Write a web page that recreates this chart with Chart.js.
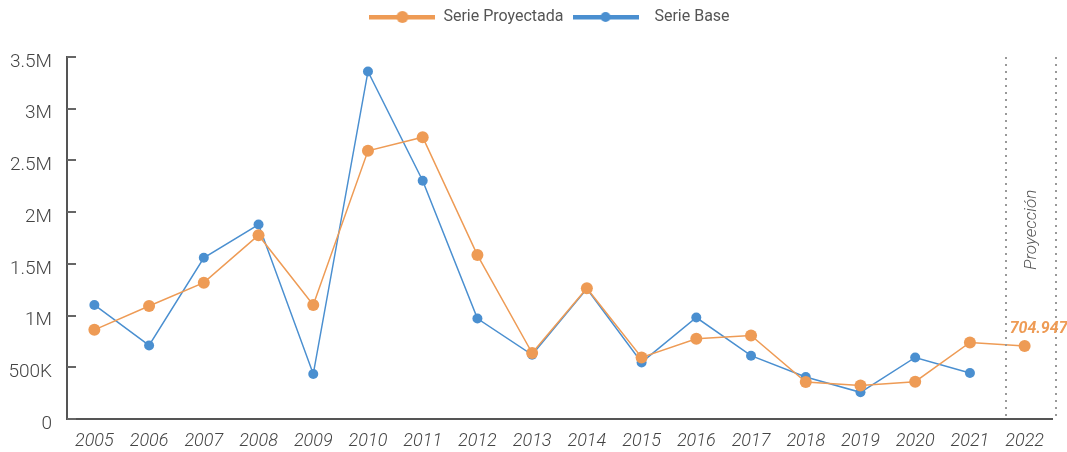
<!doctype html>
<html lang="es">
<head>
<meta charset="utf-8">
<script src="https://cdn.jsdelivr.net/npm/chart.js/dist/chart.umd.min.js"></script>
<style>
  * { margin: 0; padding: 0; }
  body { width: 1067px; height: 452px; background: #fff; overflow: hidden; }
  .chartBox { width: 1067px; height: 452px; }
</style>
</head>
<body>
<div class="chartBox"><canvas id="proyChart"></canvas></div>
<script>
// datos
var years = ['2005','2006','2007','2008','2009','2010','2011','2012','2013','2014','2015','2016','2017','2018','2019','2020','2021','2022'];
var serieProyectada = [862000, 1093000, 1318000, 1777000, 1103000, 2593000, 2725000, 1585000, 638000, 1264000, 595000, 775000, 807000, 358000, 323000, 361000, 740000, 704947];
var serieBase = [1103000, 711000, 1559000, 1880000, 435000, 3360000, 2304000, 971000, 621000, 1260000, 547000, 981000, 612000, 406000, 258000, 595000, 445000, null];
var yTicks = [0, 500000, 1000000, 1500000, 2000000, 2500000, 3000000, 3500000];

var ORANGE = '#EE9B55';
var BLUE = '#4A8FD0';

function legendIcon(color, r) {
    var c = document.createElement('canvas');
    c.width = 66; c.height = 12;
    var g = c.getContext('2d');
    g.fillStyle = color;
    g.fillRect(0, 4, 66, 4.5);
    g.beginPath();
    g.arc(33, 6, r, 0, Math.PI * 2);
    g.fill();
    return c;
}

function fmtTick(v) {
    if (v === 0) return '0';
    if (v >= 1000000) return (v / 1000000) + 'M';
    return (v / 1000) + 'K';
}

function fmtNum(v) {
    return String(v).replace(/\B(?=(\d{3})+(?!\d))/g, '.');
}

// marcas, lineas de proyeccion y etiquetas
var extras = {
    id: 'extras',
    beforeInit: function (chart) {
        var fit = chart.legend.fit;
        chart.legend.fit = function () {
            fit.bind(chart.legend)();
            this.height += 22;
        };
    },
    afterLayout: function (chart) {
        // leyenda un poco a la izquierda del centro del area
        chart.legend.left = chart.chartArea.left - 20;
        chart.legend.right = chart.chartArea.right;
    },
    afterDraw: function (chart) {
        var ctx = chart.ctx;
        var x = chart.scales.x, y = chart.scales.y;
        var area = chart.chartArea;
        ctx.save();
        // tick marks hacia dentro
        ctx.strokeStyle = '#666';
        ctx.lineWidth = 2;
        yTicks.forEach(function (t) {
            var py = Math.round(y.getPixelForValue(t));
            ctx.beginPath();
            ctx.moveTo(area.left, py);
            ctx.lineTo(area.left + 9, py);
            ctx.stroke();
        });
        // lineas punteadas
        ctx.strokeStyle = '#999';
        ctx.lineWidth = 2;
        ctx.setLineDash([2, 5]);
        [16.66, 17.57].forEach(function (i) {
            var px = Math.round(x.getPixelForValue(i));
            ctx.beginPath();
            ctx.moveTo(px, area.top);
            ctx.lineTo(px, area.bottom + 2);
            ctx.stroke();
        });
        ctx.setLineDash([]);
        // texto Proyeccion
        ctx.translate(x.getPixelForValue(17.13), y.getPixelForValue(1830000));
        ctx.rotate(-Math.PI / 2);
        ctx.fillStyle = '#555';
        ctx.font = 'italic 300 17px Roboto';
        ctx.textAlign = 'center';
        ctx.textBaseline = 'middle';
        ctx.fillText('Proyección', 0, 0);
        ctx.restore();
        // valor proyectado
        var last = serieProyectada.length - 1;
        var pt = chart.getDatasetMeta(0).data[last];
        ctx.save();
        ctx.fillStyle = ORANGE;
        ctx.font = 'italic bold 16px Roboto';
        ctx.textAlign = 'left';
        ctx.textBaseline = 'alphabetic';
        ctx.fillText(fmtNum(serieProyectada[last]), pt.x - 15, pt.y - 13);
        ctx.restore();
    }
};

var ctx = document.getElementById('proyChart');
var proyChart = new Chart(ctx, {
    type: 'line',
    data: {
        labels: years,
        datasets: [{
            label: 'Serie Proyectada',
            data: serieProyectada,
            borderColor: ORANGE,
            backgroundColor: ORANGE,
            borderWidth: 1.5,
            pointRadius: 6,
            pointBorderWidth: 0,
            pointStyle: 'circle',
            tension: 0
        }, {
            label: '  Serie Base',
            data: serieBase,
            borderColor: BLUE,
            backgroundColor: BLUE,
            borderWidth: 1.5,
            pointRadius: 5,
            pointBorderWidth: 0,
            pointStyle: 'circle',
            tension: 0
        }]
    },
    options: {
        responsive: true,
        maintainAspectRatio: false,
        animation: false,
        layout: { padding: { left: 0, right: 15, top: 0, bottom: 0 } },
        scales: {
            x: {
                offset: true,
                grid: { display: false, drawTicks: false },
                border: { color: '#555', width: 2 },
                ticks: {
                    color: '#444',
                    padding: 12,
                    maxRotation: 0,
                    autoSkip: false,
                    font: { family: 'Roboto', size: 18, style: 'italic', weight: '300' }
                },
                afterFit: function (s) { s.height = 33; }
            },
            y: {
                min: 0,
                max: 3500000,
                afterBuildTicks: function (s) { s.ticks = yTicks.map(function (v) { return { value: v }; }); },
                grid: { display: true, drawOnChartArea: false, drawTicks: false },
                border: { color: '#555', width: 2 },
                ticks: {
                    color: '#444',
                    padding: 15,
                    labelOffset: 5,
                    callback: function (v) { return fmtTick(v); },
                    font: { family: 'Roboto', size: 19, weight: '300' }
                },
                afterFit: function (s) { s.width = 67; }
            }
        },
        plugins: {
            legend: {
                position: 'top',
                fullSize: false,
                labels: {
                    usePointStyle: true,
                    pointStyleWidth: 66,
                    padding: 9,
                    color: '#555',
                    font: { family: 'Roboto', size: 16, weight: '400' },
                    generateLabels: function (chart) {
                        return chart.data.datasets.map(function (ds, i) {
                            return {
                                text: ds.label,
                                pointStyle: legendIcon(ds.borderColor, i === 0 ? 6 : 5),
                                fillStyle: ds.borderColor,
                                strokeStyle: ds.borderColor,
                                lineWidth: 0,
                                fontColor: '#555',
                                datasetIndex: i,
                                hidden: false
                            };
                        });
                    }
                }
            },
            tooltip: { enabled: false }
        }
    },
    plugins: [extras]
});
</script>
</body>
</html>
